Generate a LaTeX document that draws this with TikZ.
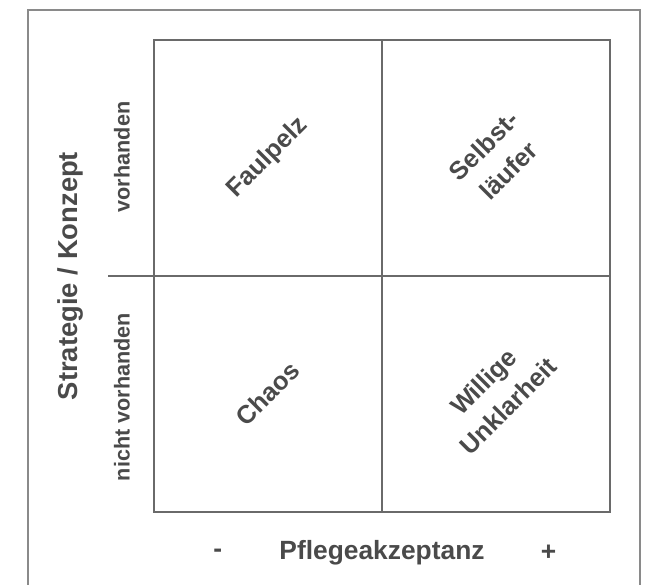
\documentclass[tikz,border=0pt]{standalone}
\usepackage{fontspec}
\setmainfont{Liberation Sans}
\usepackage{tikz}
\usetikzlibrary{positioning}
\definecolor{textgray}{HTML}{4A4A4A}
\definecolor{linegray}{HTML}{6A6A6A}
\definecolor{framegray}{HTML}{8A8A8A}
\tikzstyle{quad} = [draw=linegray,line width=0.8pt,minimum width=4.56cm,minimum height=4.72cm,outer sep=0pt,inner sep=0pt]
\tikzstyle{quadtext} = [text=textgray,font=\bfseries\fontsize{14.5}{20}\selectfont,align=center,rotate=45]
\tikzstyle{axistext} = [text=textgray,font=\bfseries\fontsize{15}{18}\selectfont]
\tikzstyle{sidetext} = [text=textgray,font=\bfseries\fontsize{12.3}{14}\selectfont,rotate=90]

\begin{document}
\begin{tikzpicture}
	\useasboundingbox (0,0) rectangle (13.04,-11.7);
	\coordinate (start) at (3.08,-0.8);

	%Frame
	\draw[framegray,line width=1.1pt] (0.56,-11.8) |- (12.8,-0.2) -- (12.8,-11.8);

	%Nodes
	\node [quad, below right=0cm of start] (Faul) {};
	\node [quad, right=0cm of Faul] (Selbst) {};
	\node [quad, below=0cm of Faul] (Chaos) {};
	\node [quad, below=0cm of Selbst] (Willig) {};
	\coordinate [left=0.92cm of Faul.south west] (axisstart);

	\node [quadtext] (tFaul) at (Faul.center) {Faulpelz};
	\node [quadtext] (tSelbst) at (Selbst.center) {Selbst-\\läufer};
	\node [quadtext] (tChaos) at (Chaos.center) {Chaos};
	\node [quadtext] (tWillig) at (Willig.center) {Willige\\Unklarheit};

	\node [axistext, font=\bfseries\fontsize{15.6}{18}\selectfont, rotate=90] (strat) at (1.4,-5.52) {Strategie / Konzept};
	\node [sidetext] (vorh) at (2.44,-3.14) {vorhanden};
	\node [sidetext] (nvorh) at (2.44,-7.94) {nicht vorhanden};

	\node [axistext] (pflege) at (7.64,-11.06) {Pflegeakzeptanz};
	\node [axistext, left=0.9cm of pflege] (minus) {-};
	\node [axistext, right=0.88cm of pflege] (plus) {+};

	%Lines
	\draw[linegray,line width=0.8pt] (axisstart) -- (Faul.south west);

\end{tikzpicture}
\end{document}
